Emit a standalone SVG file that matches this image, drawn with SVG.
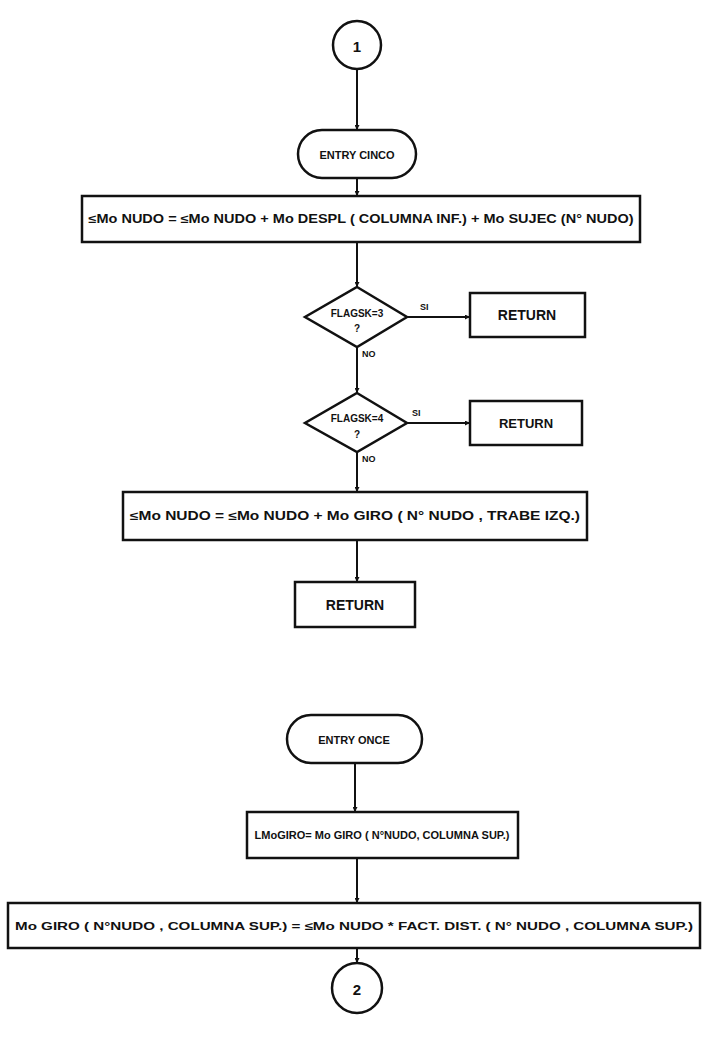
<svg xmlns="http://www.w3.org/2000/svg" width="704" height="1037" viewBox="0 0 704 1037">
<style>
.s{fill:#fff;stroke:#111;stroke-width:2.5}
.c{fill:none;stroke:#111;stroke-width:2}
.t{font-family:"Liberation Sans",Arial,sans-serif;font-weight:bold;fill:#111;text-anchor:middle;dominant-baseline:central}
.l{font-family:"Liberation Sans",Arial,sans-serif;font-weight:bold;fill:#111;font-size:9px}
</style>
<defs>
<marker id="a" viewBox="0 0 10 10" refX="10" refY="5" markerWidth="5" markerHeight="5" orient="auto" markerUnits="userSpaceOnUse">
<path d="M0,0 L10,5 L0,10 z" fill="#111"/>
</marker>
</defs>
<rect width="704" height="1037" fill="#fff"/>
<g id="connectors">
<line class="c" x1="357" y1="69" x2="357" y2="130" marker-end="url(#a)"/>
<line class="c" x1="357" y1="178" x2="357" y2="196" marker-end="url(#a)"/>
<line class="c" x1="357" y1="242" x2="357" y2="287" marker-end="url(#a)"/>
<line class="c" x1="407" y1="317" x2="470" y2="317" marker-end="url(#a)"/>
<text class="l" x="420" y="310">SI</text>
<text class="l" x="362" y="357">NO</text>
<line class="c" x1="357" y1="347" x2="357" y2="393" marker-end="url(#a)"/>
<line class="c" x1="407" y1="423" x2="470" y2="423" marker-end="url(#a)"/>
<text class="l" x="412" y="416">SI</text>
<text class="l" x="362" y="462">NO</text>
<line class="c" x1="357" y1="452" x2="357" y2="492" marker-end="url(#a)"/>
<line class="c" x1="357" y1="540" x2="357" y2="582" marker-end="url(#a)"/>
<line class="c" x1="355" y1="763" x2="355" y2="812" marker-end="url(#a)"/>
<line class="c" x1="357" y1="858" x2="357" y2="903" marker-end="url(#a)"/>
<line class="c" x1="357" y1="948" x2="357" y2="963" marker-end="url(#a)"/>
</g>
<g id="start1">
<circle class="s" cx="357" cy="45" r="24"/>
<text class="t" x="357" y="46" font-size="15">1</text>
</g>
<g id="entry_cinco">
<rect class="s" x="298" y="130" width="118" height="48" rx="24"/>
<text class="t" x="357" y="155" font-size="11">ENTRY  CINCO</text>
</g>
<g id="box1">
<rect class="s" x="82" y="196" width="558" height="46"/>
<text class="t" x="361" y="219" font-size="12" textLength="545" lengthAdjust="spacingAndGlyphs">≤Mo NUDO = ≤Mo NUDO + Mo DESPL ( COLUMNA INF.) + Mo SUJEC (N° NUDO)</text>
</g>
<g id="decision1">
<polygon class="s" points="357,287 407,317 357,347 305,317"/>
<text class="t" x="357" y="313" font-size="10">FLAGSK=3</text>
<text class="t" x="357" y="328" font-size="10">?</text>
</g>
<g id="return1">
<rect class="s" x="470" y="293" width="115" height="44"/>
<text class="t" x="527" y="315" font-size="14">RETURN</text>
</g>
<g id="decision2">
<polygon class="s" points="357,393 407,423 357,452 305,423"/>
<text class="t" x="357" y="418" font-size="10">FLAGSK=4</text>
<text class="t" x="357" y="434" font-size="10">?</text>
</g>
<g id="return2">
<rect class="s" x="470" y="401" width="112" height="44"/>
<text class="t" x="526" y="423" font-size="13">RETURN</text>
</g>
<g id="box2">
<rect class="s" x="123" y="492" width="464" height="48"/>
<text class="t" x="355" y="516" font-size="12" textLength="450" lengthAdjust="spacingAndGlyphs">≤Mo NUDO = ≤Mo NUDO + Mo GIRO ( N° NUDO , TRABE IZQ.)</text>
</g>
<g id="return3">
<rect class="s" x="295" y="582" width="120" height="45"/>
<text class="t" x="355" y="605" font-size="14">RETURN</text>
</g>
<g id="entry_once">
<rect class="s" x="287" y="715" width="135" height="48" rx="24"/>
<text class="t" x="354" y="740" font-size="11">ENTRY  ONCE</text>
</g>
<g id="box3">
<rect class="s" x="247" y="812" width="271" height="46"/>
<text class="t" x="382" y="835" font-size="11" textLength="255" lengthAdjust="spacingAndGlyphs">LMoGIRO= Mo GIRO ( N°NUDO, COLUMNA SUP.)</text>
</g>
<g id="box4">
<rect class="s" x="8" y="903" width="692" height="45"/>
<text class="t" x="354" y="926" font-size="11" textLength="678" lengthAdjust="spacingAndGlyphs">Mo GIRO ( N°NUDO , COLUMNA SUP.) = ≤Mo NUDO * FACT. DIST. ( N° NUDO , COLUMNA SUP.)</text>
</g>
<g id="end2">
<circle class="s" cx="357" cy="988" r="25"/>
<text class="t" x="357" y="989" font-size="15">2</text>
</g>
</svg>
